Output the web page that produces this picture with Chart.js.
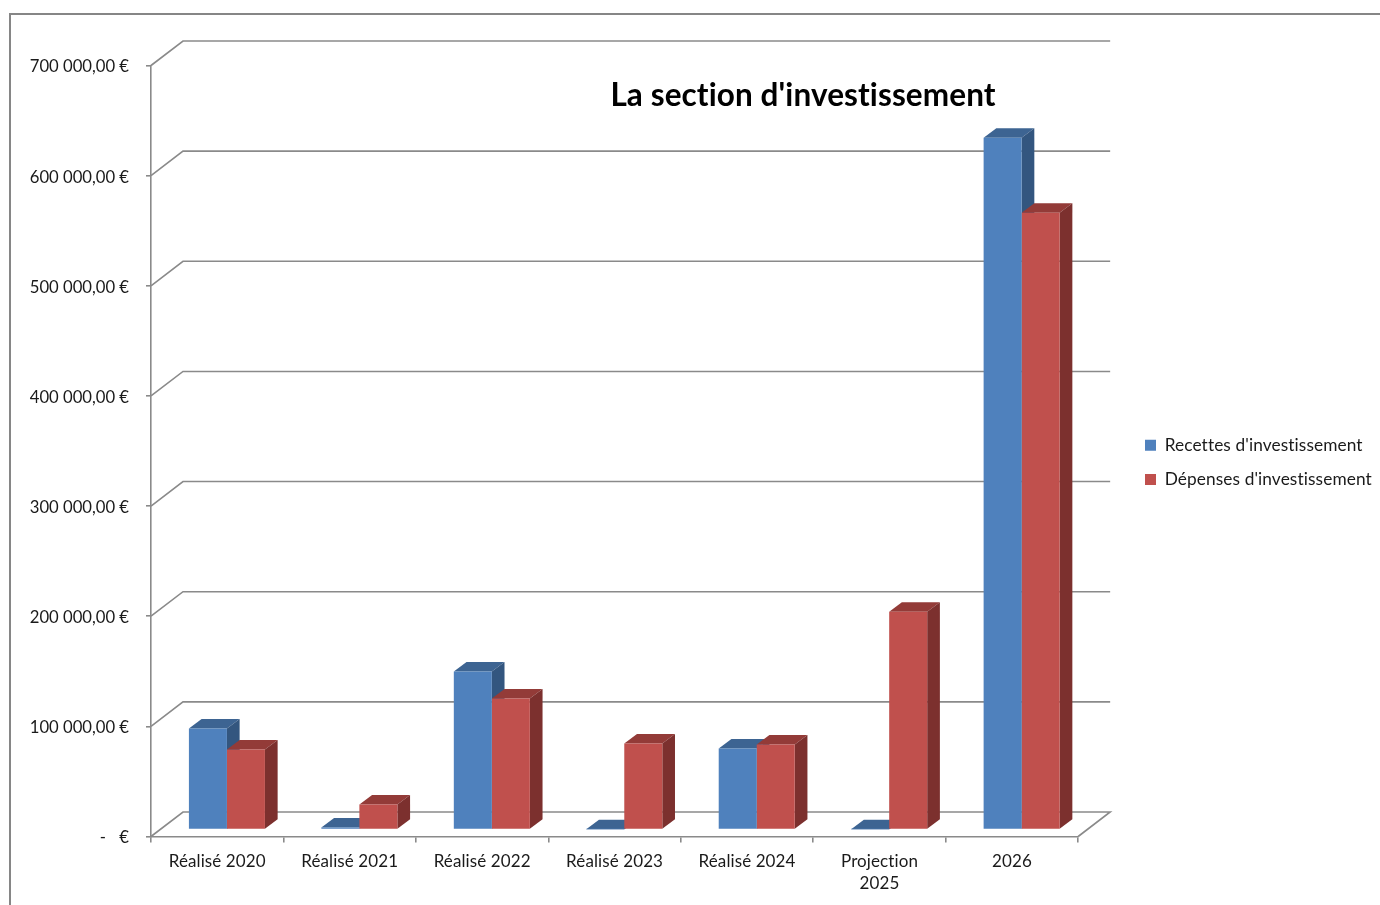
<!DOCTYPE html>
<html lang="fr">
<head>
<meta charset="utf-8">
<title>La section d'investissement</title>
<script src="https://cdn.jsdelivr.net/npm/chart.js@4"></script>
<style>
  html, body { margin: 0; padding: 0; background: #fff; overflow: hidden; }
  #frame { position: absolute; left: 9px; top: 13px; right: 0; bottom: 0; border-left: 2px solid #868686; border-top: 2px solid #868686; }
  #myChart { position: absolute; left: 0; top: 0; }
</style>
</head>
<body>
<div id="frame"></div>
<canvas id="myChart" width="1380" height="905"></canvas>
<script>
const categories = ["Réalisé 2020", "Réalisé 2021", "Réalisé 2022", "Réalisé 2023", "Réalisé 2024", ["Projection", "2025"], "2026"];
const recettes = [91700, 1800, 143400, 300, 73500, 300, 628000];
const depenses = [72600, 22700, 118900, 78000, 77100, 197800, 560000];
const yTicks = [0, 100000, 200000, 300000, 400000, 500000, 600000, 700000];

const GRID = "#8a8a8a";
const FONT = "Lato, Carlito, sans-serif";

// wall offset of the fake 3d box, and where the bars sit inside it
const wall = { dx: 32, dy: 24.5 };
const bar = { shiftX: 9.7, shiftY: 7, dx: 12.7, dy: 9.5 };

function euros(v) {
  if (v === 0) return "-   €";
  return (v / 1000).toFixed(0) + "\u202F000,00\u202F€";
}

function drawFaces(ctx, el, ds) {
  const l = el.x - el.width / 2, r = el.x + el.width / 2;
  // top face
  ctx.fillStyle = ds.topColor;
  ctx.beginPath();
  ctx.moveTo(l, el.y);
  ctx.lineTo(l + bar.dx, el.y - bar.dy);
  ctx.lineTo(r + bar.dx, el.y - bar.dy);
  ctx.lineTo(r, el.y);
  ctx.closePath();
  ctx.fill();
  // side face
  ctx.fillStyle = ds.sideColor;
  ctx.beginPath();
  ctx.moveTo(r, el.y);
  ctx.lineTo(r + bar.dx, el.y - bar.dy);
  ctx.lineTo(r + bar.dx, el.base - bar.dy);
  ctx.lineTo(r, el.base);
  ctx.closePath();
  ctx.fill();
}

const box3d = {
  id: "box3d",
  beforeLayout(chart) {
    // no ligatures, the original text has none
    chart.ctx.letterSpacing = "0.1px";
  },
  afterLayout(chart) {
    // legend and title do not take their normal place in this chart
    chart.legend.left = 1128;
    chart.legend.right = 1380;
    chart.legend.top = 419.5;
    chart.legend.bottom = 905;
    chart.titleBlock.left = 503;
    chart.titleBlock.right = 1103;
    chart.titleBlock.top = 76.5;
    chart.titleBlock.bottom = 113;
  },
  beforeDraw(chart) {
    chart.ctx.letterSpacing = "0.1px";
  },
  beforeDatasetsDraw(chart) {
    const { ctx, scales: { x, y } } = chart;
    const left = x.left, right = x.right;
    ctx.save();
    ctx.strokeStyle = GRID;
    ctx.lineWidth = 1.6;
    yTicks.forEach((t) => {
      const py = y.getPixelForValue(t);
      ctx.beginPath();
      ctx.moveTo(left, py);
      ctx.lineTo(left + wall.dx, py - wall.dy);
      ctx.lineTo(right + wall.dx, py - wall.dy);
      if (t === 0) ctx.lineTo(right, py);
      ctx.stroke();
    });
    ctx.translate(bar.shiftX, -bar.shiftY);
    // all side and top faces first, the fronts come over them
    chart.data.datasets.forEach((ds, i) => {
      chart.getDatasetMeta(i).data.forEach((el) => drawFaces(ctx, el, ds));
    });
    ctx.restore();
  },
  beforeDatasetDraw(chart) {
    chart.ctx.save();
    chart.ctx.translate(bar.shiftX, -bar.shiftY);
  },
  afterDatasetDraw(chart) {
    chart.ctx.restore();
  }
};

new Chart(document.getElementById("myChart"), {
  type: "bar",
  data: {
    labels: categories,
    datasets: [
      { label: "Recettes d'investissement", data: recettes, backgroundColor: "#4F81BD", topColor: "#3D6492", sideColor: "#33567F", clip: false },
      { label: "Dépenses d'investissement", data: depenses, backgroundColor: "#C0504D", topColor: "#933B38", sideColor: "#7C302E", clip: false }
    ]
  },
  plugins: [box3d],
  options: {
    responsive: false,
    animation: false,
    layout: { padding: { top: 27.7, left: 0, bottom: 0, right: 48 } },
    datasets: { bar: { categoryPercentage: 0.574, barPercentage: 1 } },
    plugins: {
      tooltip: { enabled: false },
      title: {
        display: true,
        text: "La section d'investissement",
        color: "#000",
        padding: 0,
        font: { family: FONT, size: 31.5, weight: "bold" }
      },
      legend: {
        position: "right",
        align: "start",
        labels: {
          boxWidth: 11,
          boxHeight: 11,
          padding: 17,
          color: "#1a1a1a",
          font: { family: FONT, size: 17.3 }
        }
      }
    },
    scales: {
      x: {
        afterFit(axis) { axis.height = 68.5; },
        border: { color: GRID, width: 1.6 },
        grid: { offset: true, drawOnChartArea: false, color: GRID, lineWidth: 1.6, tickLength: 6 },
        ticks: {
          autoSkip: false,
          maxRotation: 0,
          padding: 8,
          color: "#1a1a1a",
          font: { family: FONT, size: 17, lineHeight: 1.3 }
        }
      },
      y: {
        min: 0,
        max: 700000,
        afterFit(axis) { axis.width = 151; },
        border: { color: GRID, width: 1.6 },
        grid: { drawOnChartArea: false, color: GRID, lineWidth: 1.6, tickLength: 5 },
        ticks: {
          stepSize: 100000,
          padding: 17,
          labelOffset: 1.5,
          color: "#1a1a1a",
          font: { family: FONT, size: 16.7 },
          callback: euros
        }
      }
    }
  }
});
</script>
</body>
</html>
